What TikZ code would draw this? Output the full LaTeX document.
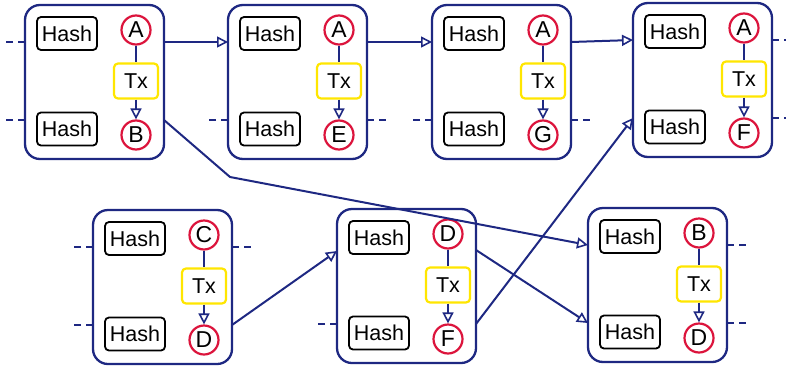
\documentclass[tikz,border=0pt]{standalone}
\usepackage{fontspec}
\setmainfont{Liberation Sans}
\usetikzlibrary{arrows.meta}
\definecolor{navy}{RGB}{30,40,130}
\definecolor{cred}{RGB}{220,20,60}
\definecolor{cyel}{RGB}{255,230,0}
\newcommand\txtfont{\fontsize{21.5}{24}\selectfont}
\newcommand\letfont{\fontsize{23}{26}\selectfont}
% #1 name, #2 left, #3 top, #4 top letter, #5 bottom letter
\newcommand\blk[5]{%
  \node[blockbox, anchor=north west] (#1) at (#2,#3) {};
  \node[hashbox] (#1-h1) at (#2+42,#3+28.5) {Hash};
  \node[hashbox] (#1-h2) at (#2+42,#3+124) {Hash};
  \node[letter] (#1-t) at (#2+111,#3+25) {#4};
  \node[txbox] (#1-tx) at (#2+111,#3+76) {Tx};
  \node[letter] (#1-b) at (#2+111,#3+130) {#5};
  \draw[conn] (#1-t) -- (#1-tx);
  \draw[arr] (#1-tx) -- (#1-b);
  \coordinate (#1-i1) at (#2,#3+37);
  \coordinate (#1-i2) at (#2,#3+115);
  \coordinate (#1-o1) at (#2+139,#3+37);
  \coordinate (#1-o2) at (#2+139,#3+115);
}
\begin{document}
\begin{tikzpicture}[x=1pt,y=-1pt,
  blockbox/.style={draw=navy, line width=2.3pt, rounded corners=15pt, minimum width=139pt, minimum height=154pt, inner sep=0pt, outer sep=0pt, fill=white},
  hashbox/.style={draw=black, line width=1.8pt, rounded corners=4pt, minimum width=60pt, minimum height=33pt, inner sep=0pt, font=\txtfont},
  txbox/.style={draw=cyel, line width=2.2pt, rounded corners=4pt, minimum width=44pt, minimum height=35pt, inner sep=0pt, fill=white, font=\txtfont},
  letter/.style={circle, draw=cred, line width=2.2pt, minimum size=29pt, inner sep=0pt, fill=white, font=\letfont},
  conn/.style={draw=navy, line width=2pt},
  arr/.style={conn, -{Triangle[open, length=11pt, width=11pt, line width=1.6pt]}},
  stub/.style={conn, dash pattern=on 7pt off 5pt},
]
\useasboundingbox (0,0) rectangle (786,367);
\blk{b1}{25}{5}{A}{B}
\blk{b2}{228}{5}{A}{E}
\blk{b3}{432}{5}{A}{G}
\blk{b4}{633}{3}{A}{F}
\blk{b5}{93}{210}{C}{D}
\blk{b6}{337}{209}{D}{F}
\blk{b7}{588}{208}{B}{D}
\coordinate (b6-i1) at (337,251);
\coordinate (b6-o1) at (476,250);
\coordinate (bend) at (230,177);
% connectors
\draw[arr] (b1-o1) -- (b2-i1);
\draw[arr] (b2-o1) -- (b3-i1);
\draw[arr] (b3-o1) -- (b4-i1);
\draw[arr] (b1-o2) -- (bend) -- (b7-i1);
\draw[arr] (b5-o2) -- (b6-i1);
\draw[arr] (b6-o1) -- (b7-i2);
\draw[arr] (b6-o2) -- (b4-i2);
% stubs
\draw[stub] (b1-i1) -- ++(-19,0);
\draw[stub] (b1-i2) -- ++(-19,0);
\draw[stub] (b2-i2) -- ++(-19,0);
\draw[stub] (b2-o2) -- ++(19,0);
\draw[stub] (b3-i2) -- ++(-19,0);
\draw[stub] (b3-o2) -- ++(19,0);
\draw[stub] (b4-o1) -- ++(19,0);
\draw[stub] (b4-o2) -- ++(19,0);
\draw[stub] (b5-i1) -- ++(-19,0);
\draw[stub] (b5-i2) -- ++(-19,0);
\draw[stub] (b5-o1) -- ++(19,0);
\draw[stub] (b6-i2) -- ++(-19,0);
\draw[stub] (b7-o1) -- ++(19,0);
\draw[stub] (b7-o2) -- ++(19,0);
\end{tikzpicture}
\end{document}
